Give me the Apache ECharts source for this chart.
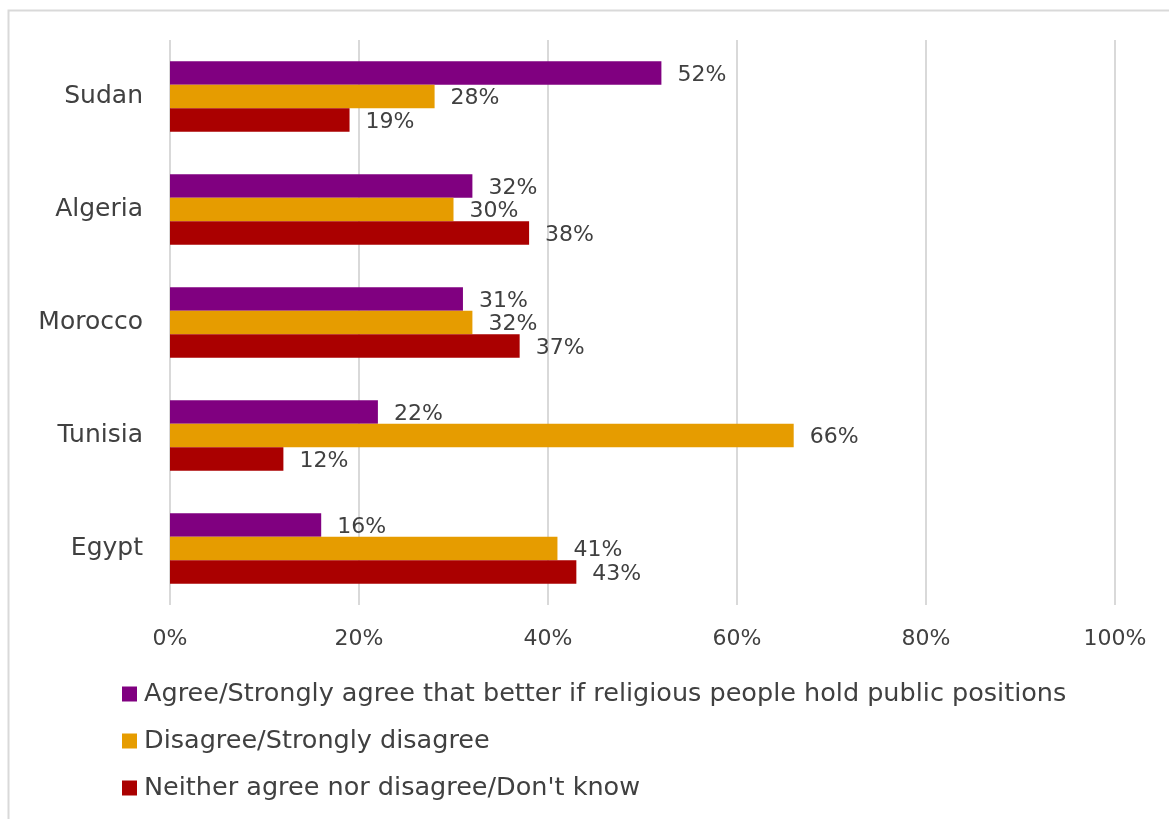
<!DOCTYPE html>
<html>
<head>
<meta charset="utf-8">
<script src="https://cdn.jsdelivr.net/npm/echarts@6/dist/echarts.min.js"></script>
<style>html,body{margin:0;padding:0;background:#fff}#c{width:1169px;height:819px}</style>
</head>
<body>
<div id="c"></div>
<script>
const categories = ['Sudan', 'Algeria', 'Morocco', 'Tunisia', 'Egypt'];
const seriesNames = [
  'Agree/Strongly agree that better if religious people hold public positions',
  'Disagree/Strongly disagree',
  "Neither agree nor disagree/Don't know"
];
const agree = [52, 32, 31, 22, 16];
const disagree = [28, 30, 32, 66, 41];
const neither = [19, 38, 37, 12, 43];
const xTicks = [0, 20, 40, 60, 80, 100];
const colors = ['#800080', '#E69C00', '#AA0000'];

const FONT = 'DejaVu Sans';
const TXT = '#404040';
const chart = echarts.init(document.getElementById('c'), null, {renderer: 'canvas'});
const mk = (name, data, color) => ({
  name, type: 'bar', data,
  itemStyle: {color},
  barGap: '0%', barCategoryGap: '37.5%',
  label: {
    show: true, position: 'right', distance: 16, offset: [0, 2],
    formatter: '{c}%', color: TXT, fontFamily: FONT, fontSize: 22
  }
});
chart.setOption({
  animation: false,
  backgroundColor: '#fff',
  graphic: [{
    type: 'rect', shape: {x: 8.5, y: 10.5, width: 1200, height: 900},
    style: {fill: 'none', stroke: '#d9d9d9', lineWidth: 2}, silent: true, z: -10
  }],
  grid: {left: 170, right: 54, top: 40, height: 565},
  xAxis: {
    type: 'value', min: xTicks[0], max: xTicks[xTicks.length - 1], interval: 20,
    axisLine: {show: false}, axisTick: {show: false},
    splitLine: {lineStyle: {color: '#d9d9d9', width: 2}},
    axisLabel: {formatter: '{value}%', color: TXT, fontFamily: FONT, fontSize: 22, margin: 23}
  },
  yAxis: {
    type: 'category', data: categories, inverse: true,
    axisLine: {show: false}, axisTick: {show: false},
    axisLabel: {color: TXT, fontFamily: FONT, fontSize: 25, margin: 27}
  },
  legend: {
    orient: 'vertical', left: 122, top: 681, padding: 0,
    itemWidth: 15, itemHeight: 15, itemGap: 21, icon: 'rect',
    textStyle: {color: TXT, fontFamily: FONT, fontSize: 25.5, lineHeight: 22, padding: [0, 0, 0, 2]},
    data: seriesNames
  },
  series: [
    mk(seriesNames[0], agree, colors[0]),
    mk(seriesNames[1], disagree, colors[1]),
    mk(seriesNames[2], neither, colors[2])
  ]
});
</script>
</body>
</html>
